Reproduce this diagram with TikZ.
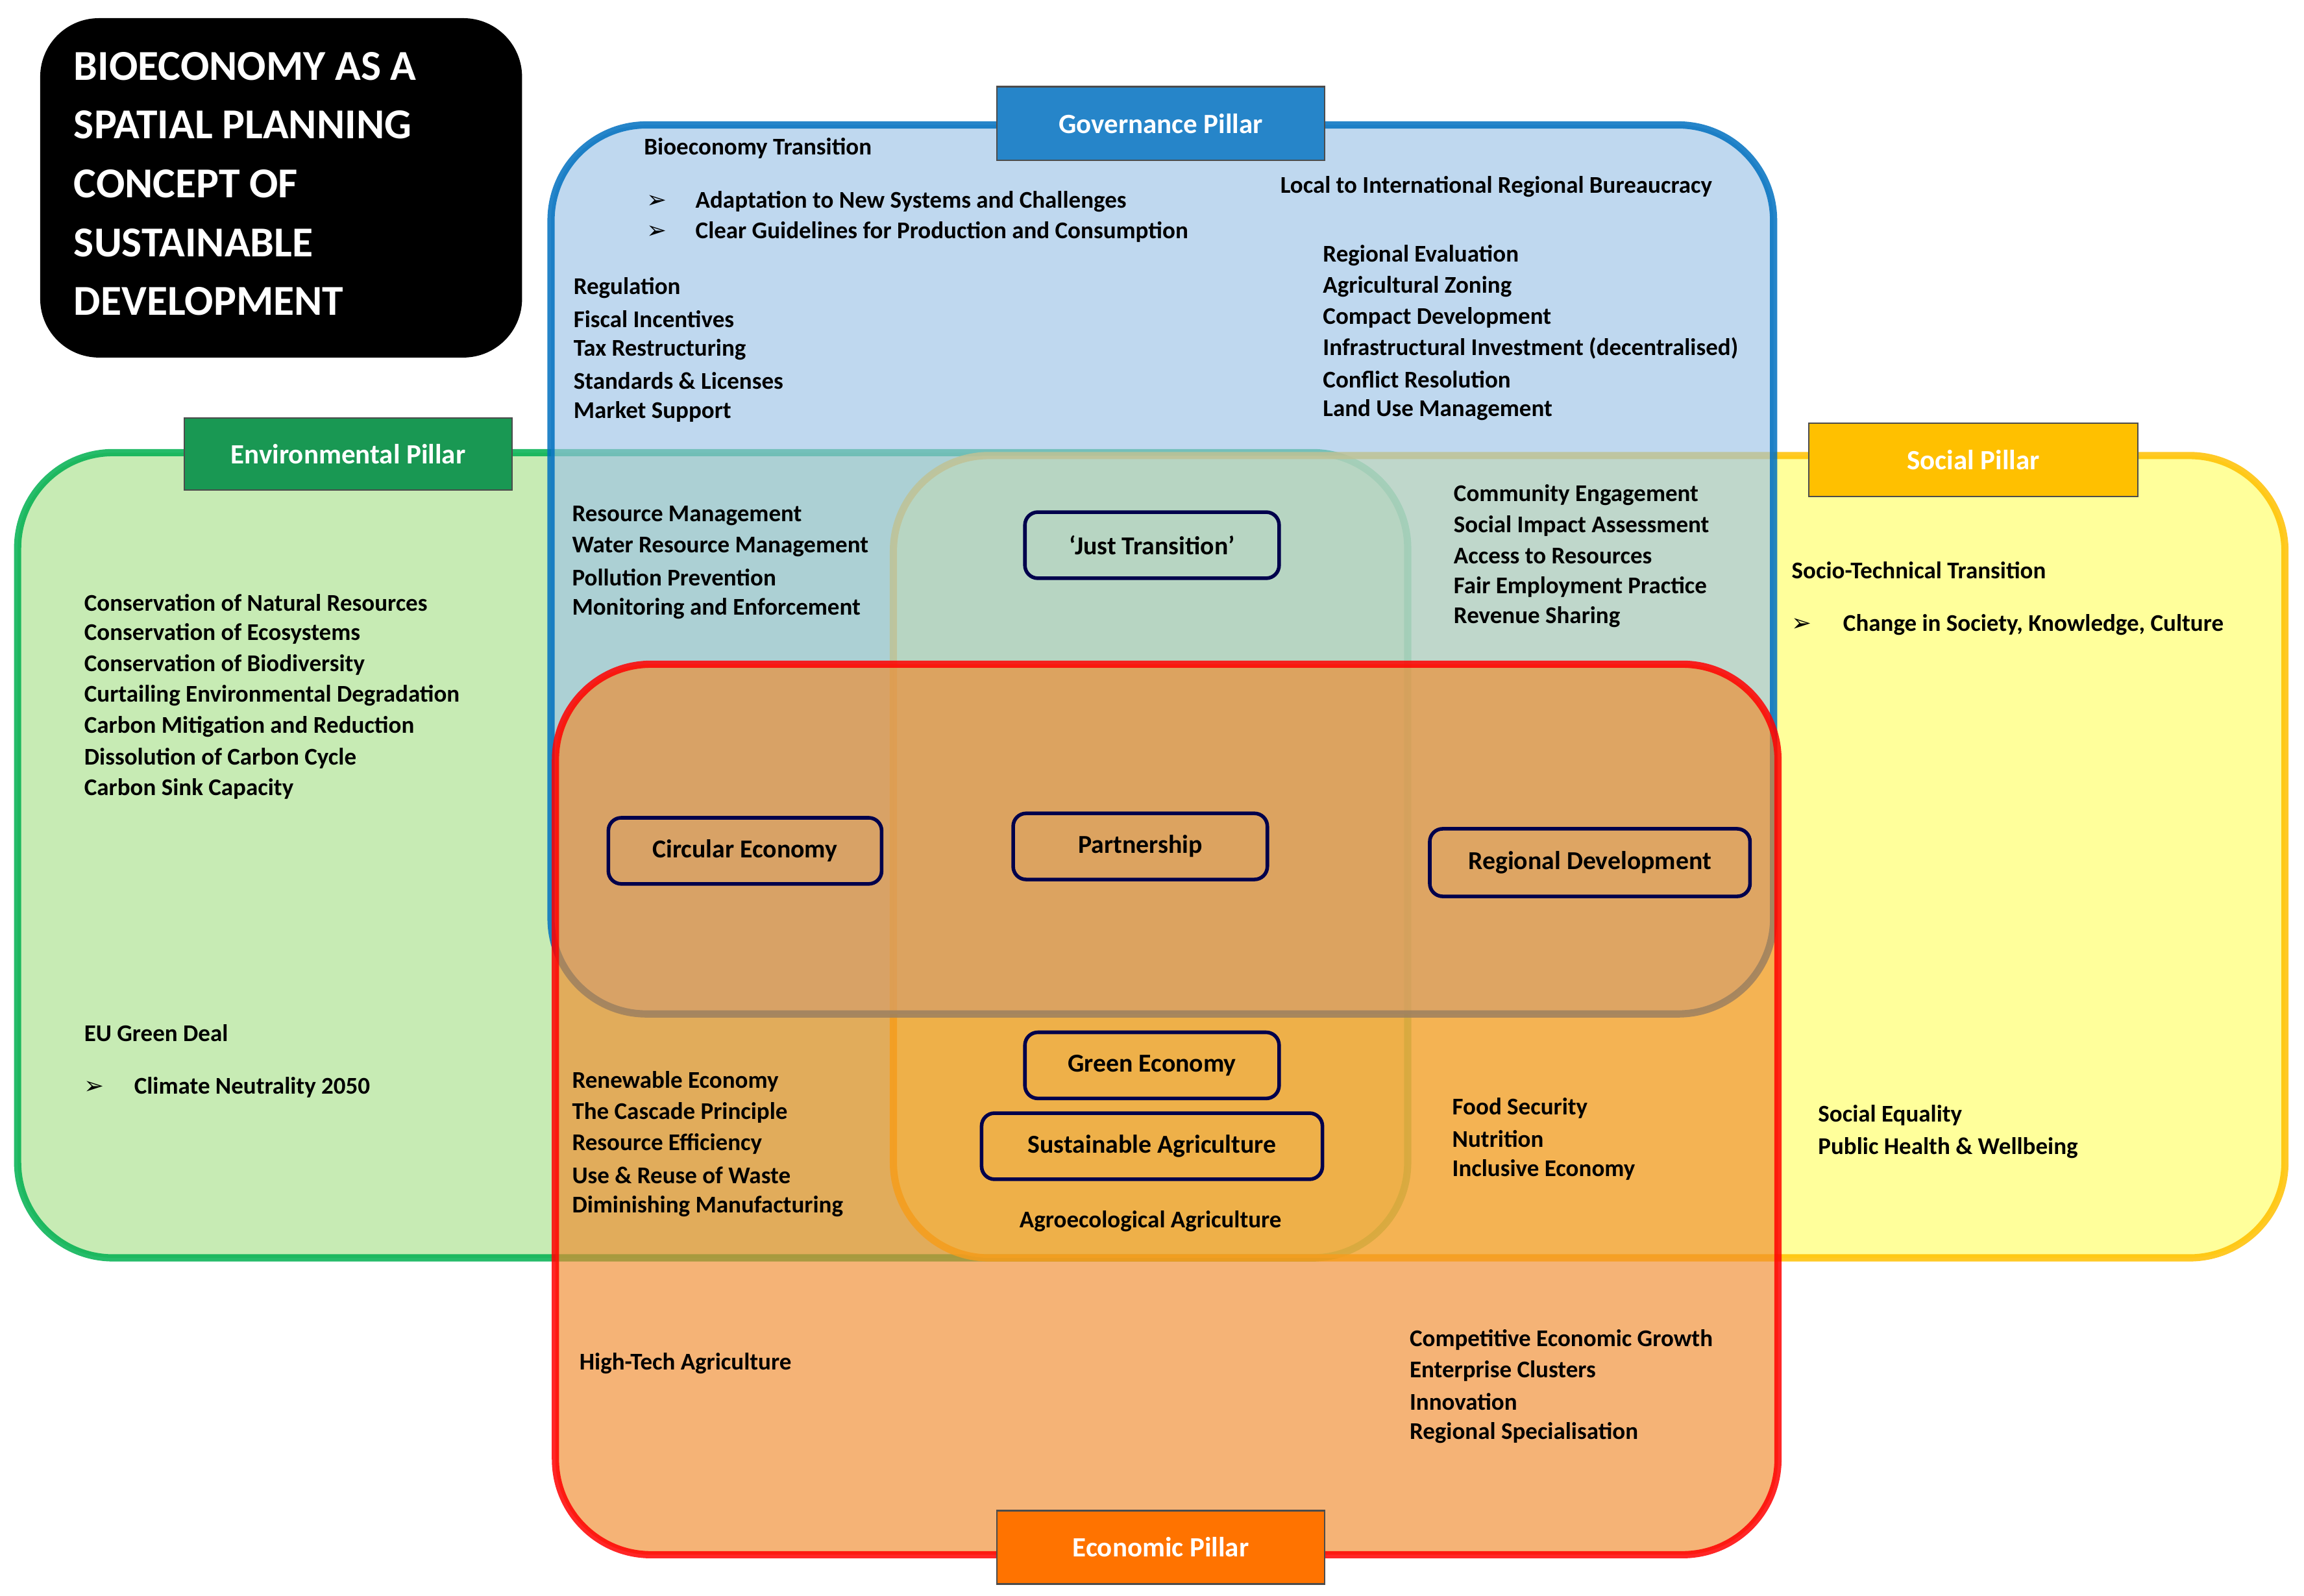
\documentclass[tikz,border=0pt]{standalone}
\usepackage{fontspec}
\setmainfont{Carlito}
\newfontfamily\djv{DejaVu Sans}
\begin{document}
\begin{tikzpicture}[x=0.02cm,y=-0.02cm,
  t/.style={anchor=west,inner sep=0,font=\fontsize{9.3}{11}\selectfont\bfseries},
  pil/.style={draw=black!70,line width=0.6pt,text=white,font=\fontsize{10.8}{12}\selectfont\bfseries,inner sep=0},
  bx/.style={draw=blue!30!black,line width=1.4pt,rounded corners=5pt,inner sep=0,font=\fontsize{10}{11}\selectfont\bfseries},
  reg/.style={line width=2.8pt,rounded corners=1.3cm,fill opacity=0.65,draw opacity=0.85}]
\useasboundingbox (0,0) rectangle (1568,1086);
\definecolor{envf}{HTML}{A9E08C}\definecolor{envd}{HTML}{00B050}
\definecolor{socf}{HTML}{FFFF66}\definecolor{socd}{HTML}{FFC000}
\definecolor{govf}{HTML}{9DC3E6}\definecolor{govd}{HTML}{0070C0}
\definecolor{ecof}{HTML}{F08A2C}\definecolor{ecod}{HTML}{FF0000}
\path[reg,draw=envd,fill=envf] (12,308) rectangle (958,856);
\path[reg,draw=socd,fill=socf] (608,310) rectangle (1555,856);
\path[reg,draw=govd,fill=govf] (375,85) rectangle (1207,690);
\path[reg,draw=ecod,fill=ecof] (378,452) rectangle (1210,1058);
% title
\node[fill=black,rounded corners=0.8cm,minimum width=6.56cm,minimum height=4.62cm,anchor=north west] (title) at (27,12) {};
\node[anchor=north west,text=white,align=left,font=\fontsize{16.5}{22.8}\selectfont\bfseries,inner sep=0] (tt) at (50,35) {BIOECONOMY AS A\\SPATIAL PLANNING\\CONCEPT OF\\SUSTAINABLE\\DEVELOPMENT};
% pillar labels
\node[pil,fill=govd!85!white,minimum width=4.46cm,minimum height=1cm] (gp) at (790,84) {Governance Pillar};
\node[pil,fill=envd!80!black!90,minimum width=4.46cm,minimum height=0.98cm] (ep) at (237,309) {Environmental Pillar};
\node[pil,fill=socd,minimum width=4.48cm,minimum height=1cm] (sp) at (1343,313) {Social Pillar};
\node[pil,fill=orange!90!red,minimum width=4.46cm,minimum height=1cm] (op) at (790,1053) {Economic Pillar};
% inner boxes
\node[bx,minimum width=3.46cm,minimum height=0.9cm] (jt) at (784,371) {‘Just Transition’};
\node[bx,minimum width=3.72cm,minimum height=0.9cm] (ce) at (507,579) {Circular Economy};
\node[bx,minimum width=3.46cm,minimum height=0.9cm] (pa) at (776,576) {Partnership};
\node[bx,minimum width=4.36cm,minimum height=0.92cm] (rd) at (1082,587) {Regional Development};
\node[bx,minimum width=3.46cm,minimum height=0.9cm] (ge) at (784,725) {Green Economy};
\node[bx,minimum width=4.64cm,minimum height=0.9cm] (sa) at (784,780) {Sustainable Agriculture};
% governance texts
\node[t] (g1) at (438,101) {Bioeconomy Transition};
\node[t] (g2) at (440,137) {{\djv\mdseries ➢}};
\node[t] (g3) at (473,137) {Adaptation to New Systems and Challenges};
\node[t] (g4) at (440,158) {{\djv\mdseries ➢}};
\node[t] (g5) at (473,158) {Clear Guidelines for Production and Consumption};
\node[t] (g6) at (871,127) {Local to International Regional Bureaucracy};
\foreach \s [count=\i] in {Regional Evaluation,Agricultural Zoning,Compact Development,Infrastructural Investment (decentralised),Conflict Resolution,Land Use Management}
  \node[t] (gr\i) at (900,174+21*\i-21) {\s};
\foreach \s [count=\i] in {Regulation,Fiscal Incentives,Tax Restructuring,Standards \& Licenses,Market Support}
  \node[t] (gl\i) at (390,196+21*\i-21) {\s};
\foreach \s [count=\i] in {Resource Management,Water Resource Management,Pollution Prevention,Monitoring and Enforcement}
  \node[t] (eg\i) at (389,351+21*\i-21) {\s};
\foreach \s [count=\i] in {Community Engagement,Social Impact Assessment,Access to Resources,Fair Employment Practice,Revenue Sharing}
  \node[t] (sg\i) at (989,337+20.75*\i-20.75) {\s};
% social
\node[t] (s1) at (1219,388) {Socio-Technical Transition};
\node[t] (s2) at (1219,425) {{\djv\mdseries ➢}};
\node[t] (s3) at (1254,425) {Change in Society, Knowledge, Culture};
\node[t] (s4) at (1237,759) {Social Equality};
\node[t] (s5) at (1237,781) {Public Health \& Wellbeing};
% environmental
\foreach \s [count=\i] in {Conservation of Natural Resources,Conservation of Ecosystems,Conservation of Biodiversity,Curtailing Environmental Degradation,Carbon Mitigation and Reduction,Dissolution of Carbon Cycle,Carbon Sink Capacity}
  \node[t] (en\i) at (57,410+21.17*\i-21.17) {\s};
\node[t] (e1) at (57,703) {EU Green Deal};
\node[t] (e2) at (57,740) {{\djv\mdseries ➢}};
\node[t] (e3) at (91,740) {Climate Neutrality 2050};
\foreach \s [count=\i] in {Renewable Economy,The Cascade Principle,Resource Efficiency,Use \& Reuse of Waste,Diminishing Manufacturing}
  \node[t] (ee\i) at (389,736+21.25*\i-21.25) {\s};
\node[t,anchor=center] (aa) at (783,831) {Agroecological Agriculture};
\foreach \s [count=\i] in {Food Security,Nutrition,Inclusive Economy}
  \node[t] (se\i) at (988,754+21*\i-21) {\s};
% economic
\node[t] (o1) at (394,928) {High-Tech Agriculture};
\foreach \s [count=\i] in {Competitive Economic Growth,Enterprise Clusters,Innovation,Regional Specialisation}
  \node[t] (oe\i) at (959,912+21*\i-21) {\s};
\end{tikzpicture}
\end{document}
